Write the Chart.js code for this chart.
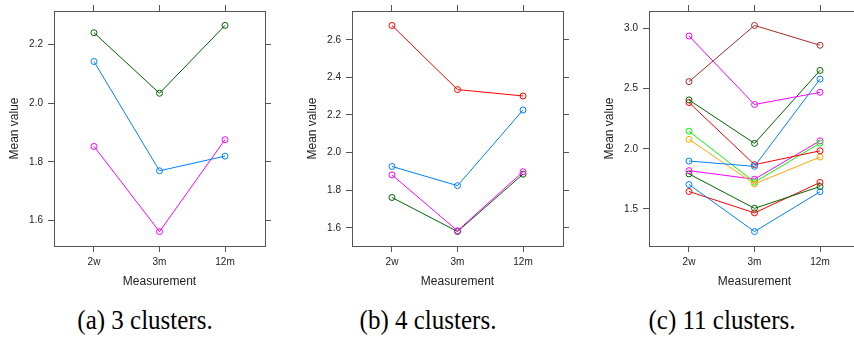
<!DOCTYPE html>
<html>
<head>
<meta charset="utf-8">
<script src="https://cdn.jsdelivr.net/npm/chart.js@4.4.1/dist/chart.umd.min.js"></script>
<style>
    body { margin: 0; width: 854px; height: 338px; overflow: hidden; background: #fff; position: relative; }
    canvas { position: absolute; top: 0; }
    .cap { position: absolute; top: 305px; width: 220px; text-align: center; font-family: 'Liberation Serif', serif; font-size: 25px; color: #000; transform: scale(1, 1.08); transform-origin: center top; }
</style>
</head>
<body>
<canvas id="panelA" width="285" height="289" style="left:0px"></canvas>
<canvas id="panelB" width="285" height="289" style="left:298px"></canvas>
<canvas id="panelC" width="285" height="289" style="left:595px"></canvas>
<div class="cap" style="left:35px">(a) 3 clusters.</div>
<div class="cap" style="left:318px">(b) 4 clusters.</div>
<div class="cap" style="left:612px">(c) 11 clusters.</div>
<script>
// measurement points on the x axis
const categories = ['2w', '3m', '12m'];

// lattice default line colours
const blue = '#0080ff', magenta = '#ff00ff', darkgreen = '#006400', red = '#ff0000';
const orange = '#ffa500', green = '#00ff00', brown = '#a52a2a';

// (a) 3 clusters
const a1 = [2.142, 1.770, 1.820];
const a2 = [1.853, 1.563, 1.876];
const a3 = [2.240, 2.034, 2.265];
const ticksA = [1.6, 1.8, 2.0, 2.2];

// (b) 4 clusters
const b1 = [1.926, 1.824, 2.226];
const b2 = [1.881, 1.584, 1.898];
const b3 = [1.761, 1.580, 1.885];
const b4 = [2.676, 2.335, 2.301];
const ticksB = [1.6, 1.8, 2.0, 2.2, 2.4, 2.6];

// (c) 11 clusters
const c1 = [1.898, 1.854, 2.579];
const c2 = [2.937, 2.368, 2.469];
const c3 = [2.406, 2.045, 2.651];
const c4 = [2.384, 1.868, 1.983];
const c5 = [2.078, 1.708, 1.931];
const c6 = [2.146, 1.722, 2.047];
const c7 = [2.558, 3.025, 2.860];
const c8 = [1.703, 1.312, 1.643];
const c9 = [1.818, 1.747, 2.066];
const c10 = [1.791, 1.505, 1.686];
const c11 = [1.645, 1.467, 1.720];
const ticksC = [1.5, 2.0, 2.5, 3.0];

const axisColor = '#555';
const textColor = '#222';
const xPositions = categories.map((c, i) => i + 1);

function line(values, color) {
    return {
        data: values.map((v, i) => ({ x: xPositions[i], y: v })),
        borderColor: color,
        borderWidth: 1,
        pointRadius: 3,
        pointBorderWidth: 1,
        pointBorderColor: color,
        pointBackgroundColor: 'rgba(0,0,0,0)',
        tension: 0,
        fill: false
    };
}

function xAxis(position, main, size) {
    return {
        type: 'linear',
        position: position,
        min: 0.39,
        max: 3.61,
        afterBuildTicks: (s) => { s.ticks = xPositions.map(v => ({ value: v })); },
        afterFit: (s) => { s.height = size; },
        ticks: {
            display: main,
            padding: 4,
            maxRotation: 0,
            autoSkip: false,
            color: textColor,
            font: { family: 'Liberation Sans', size: 10 },
            callback: (v) => categories[Math.round(v) - 1]
        },
        grid: { drawOnChartArea: false, drawTicks: true, tickLength: 6, color: axisColor },
        border: { display: true, color: axisColor, width: 1 },
        title: {
            display: main,
            text: 'Measurement',
            color: textColor,
            font: { family: 'Liberation Sans', size: 12 },
            padding: { top: 0, bottom: 0 }
        }
    };
}

function yAxis(position, main, size, min, max, tickValues) {
    return {
        type: 'linear',
        position: position,
        min: min,
        max: max,
        afterBuildTicks: (s) => { s.ticks = tickValues.map(v => ({ value: v })); },
        afterFit: (s) => { s.width = size; },
        ticks: {
            display: main,
            padding: 5,
            color: textColor,
            font: { family: 'Liberation Sans', size: 10 },
            callback: (v) => v.toFixed(1)
        },
        grid: { drawOnChartArea: false, drawTicks: true, tickLength: 6, color: axisColor },
        border: { display: true, color: axisColor, width: 1 },
        title: {
            display: main,
            text: 'Mean value',
            color: textColor,
            font: { family: 'Liberation Sans', size: 12 },
            padding: { top: 7, bottom: 0 }
        }
    };
}

function makePanel(id, datasets, min, max, tickValues) {
    new Chart(document.getElementById(id), {
        type: 'line',
        data: { datasets: datasets },
        options: {
            responsive: false,
            animation: false,
            events: [],
            devicePixelRatio: 1,
            layout: { padding: 0 },
            plugins: { legend: { display: false }, tooltip: { enabled: false } },
            scales: {
                x: xAxis('bottom', true, 43),
                x2: xAxis('top', false, 10),
                y: yAxis('left', true, 54, min, max, tickValues),
                y2: yAxis('right', false, 20, min, max, tickValues)
            }
        }
    });
}

makePanel('panelA', [line(a1, blue), line(a2, magenta), line(a3, darkgreen)], 1.514, 2.314, ticksA);

makePanel('panelB', [line(b1, blue), line(b2, magenta), line(b3, darkgreen), line(b4, red)], 1.503, 2.753, ticksB);

makePanel('panelC', [
    line(c1, blue), line(c2, magenta), line(c3, darkgreen), line(c4, red),
    line(c5, orange), line(c6, green), line(c7, brown), line(c8, blue),
    line(c9, magenta), line(c10, darkgreen), line(c11, red)
], 1.192, 3.145, ticksC);
</script>
</body>
</html>
